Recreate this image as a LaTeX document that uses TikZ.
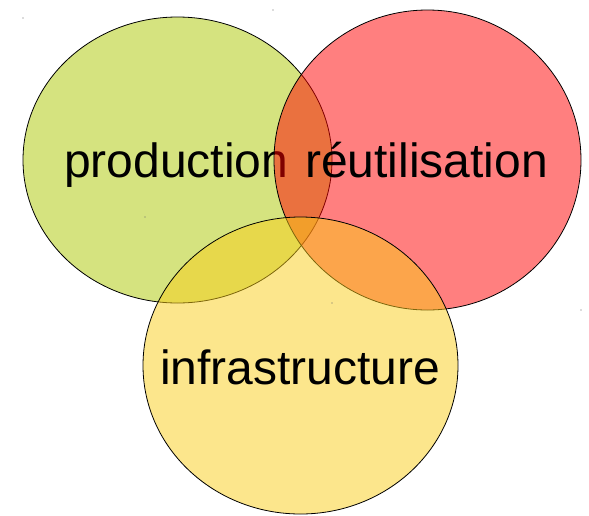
\documentclass[tikz,border=0pt]{standalone}
\usepackage{fontspec}
\setmainfont{Liberation Sans}
\definecolor{leaf}{RGB}{171,199,0}
\definecolor{sun}{RGB}{250,205,25}
\tikzset{
  zone/.style={draw=black,line width=0.8pt,fill opacity=0.5},
  word/.style={anchor=base west,inner sep=0pt,font=\fontsize{48}{58}\selectfont},
  speck/.style={fill=black!60}
}
\begin{document}
\begin{tikzpicture}[x=1pt,y=-1pt]
            \useasboundingbox (0,0) rectangle (589,515);
            \draw [zone,fill=leaf]
               (177.5,160) ellipse [x radius=154.5,y radius=143];
            \node [word] (production) at (64,177) {production};
            
            \draw [zone,fill=red]
               (427.5,160) ellipse [x radius=153.5,y radius=150];
            \node [word] (reuse) at (305,177) {réutilisation};
            
            \draw [zone,fill=sun]
               (300.5,365.5) ellipse [x radius=157.5,y radius=148.5];
            \node [word] (infra) at (160,384) {infrastructure};
            
            \foreach \px/\py in {23/18,273/10,145/217,332/303,581/310}
               \fill [speck] (\px,\py) circle [radius=0.6];
         \end{tikzpicture}
\end{document}
